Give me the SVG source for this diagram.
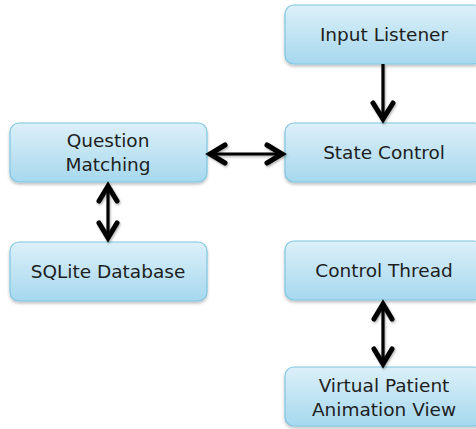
<svg xmlns="http://www.w3.org/2000/svg" width="476" height="429" viewBox="0 0 476 429">
  <defs>
    <linearGradient id="boxFill" x1="0" y1="0" x2="0" y2="1">
      <stop offset="0" stop-color="#dcf0f9"/>
      <stop offset="1" stop-color="#a6d8ee"/>
    </linearGradient>
    <filter id="shadow" x="-10%" y="-10%" width="120%" height="130%">
      <feDropShadow dx="0" dy="2" stdDeviation="1.5" flood-color="#000" flood-opacity="0.25"/>
    </filter>
    <filter id="soft" x="-20%" y="-20%" width="140%" height="140%">
      <feDropShadow dx="1" dy="1.5" stdDeviation="1" flood-color="#000" flood-opacity="0.3"/>
    </filter>
  </defs>
  <style>
    .box { fill: url(#boxFill); stroke: #7fc6e2; stroke-width: 1.2; filter: url(#shadow); }
    .label { font-family: "DejaVu Sans", "Liberation Sans", sans-serif; font-size: 18.5px; fill: #1e1e1e; text-anchor: middle; }
    .shaft { stroke: #000; stroke-width: 3.2; fill: none; }
    .head { stroke: #000; stroke-width: 5; fill: none; stroke-linecap: round; stroke-linejoin: miter; }
    #connectors { filter: url(#soft); }
  </style>
  <rect width="476" height="429" fill="#fff"/>

  <g id="input-listener">
    <rect class="box" x="285" y="5" width="198" height="59" rx="9"/>
    <text class="label" x="384" y="41">Input Listener</text>
  </g>
  <g id="state-control">
    <rect class="box" x="285" y="123" width="198" height="59" rx="9"/>
    <text class="label" x="384" y="159">State Control</text>
  </g>
  <g id="control-thread">
    <rect class="box" x="285" y="241" width="198" height="59" rx="9"/>
    <text class="label" x="384" y="277">Control Thread</text>
  </g>
  <g id="virtual-patient">
    <rect class="box" x="285" y="367" width="198" height="59" rx="9"/>
    <text class="label" x="384" y="392">Virtual Patient</text>
    <text class="label" x="384" y="416">Animation View</text>
  </g>
  <g id="question-matching">
    <rect class="box" x="10" y="123" width="197" height="59" rx="9"/>
    <text class="label" x="108" y="147">Question</text>
    <text class="label" x="108" y="171">Matching</text>
  </g>
  <g id="sqlite-database">
    <rect class="box" x="10" y="242" width="197" height="59" rx="9"/>
    <text class="label" x="108" y="278">SQLite Database</text>
  </g>

  <g id="connectors">
    <!-- Input Listener -> State Control -->
    <line class="shaft" x1="383" y1="64" x2="383" y2="119"/>
    <path class="head" d="M373,103 L383,119 L393,103"/>
    <!-- Question Matching <-> State Control -->
    <line class="shaft" x1="210" y1="154" x2="282" y2="154"/>
    <path class="head" d="M225,145 L210,154 L225,163"/>
    <path class="head" d="M267,145 L282,154 L267,163"/>
    <!-- Question Matching <-> SQLite Database -->
    <line class="shaft" x1="108" y1="186" x2="108" y2="238"/>
    <path class="head" d="M99,201 L108,186 L117,201"/>
    <path class="head" d="M99,223 L108,238 L117,223"/>
    <!-- Control Thread <-> Virtual Patient -->
    <line class="shaft" x1="383" y1="304" x2="383" y2="364"/>
    <path class="head" d="M374,319 L383,304 L392,319"/>
    <path class="head" d="M374,349 L383,364 L392,349"/>
  </g>
</svg>
